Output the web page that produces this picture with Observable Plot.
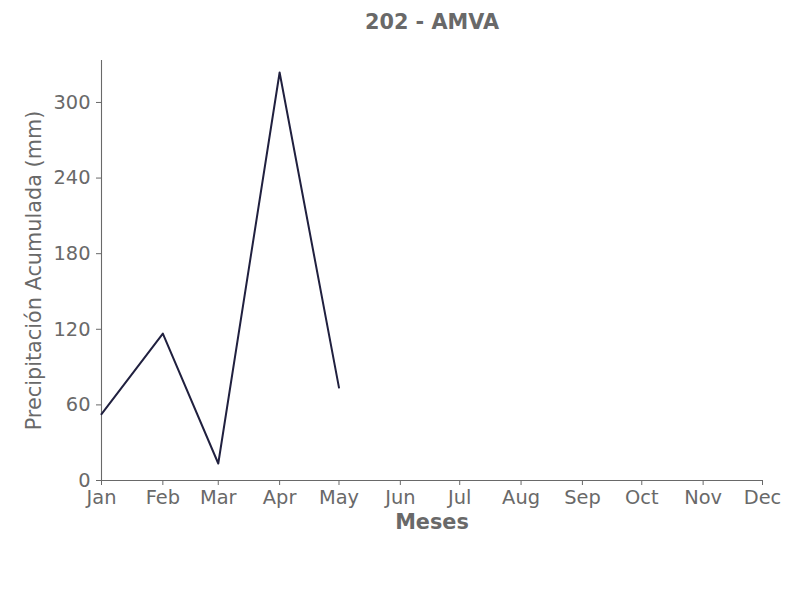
<!DOCTYPE html>
<html>
<head>
<meta charset="utf-8">
<script src="https://cdn.jsdelivr.net/npm/d3@7"></script>
<script src="https://cdn.jsdelivr.net/npm/@observablehq/plot@0.6"></script>
<style>
  html, body { margin: 0; padding: 0; background: #ffffff; }
  #chart svg { display: block; }
</style>
</head>
<body>
<div id="chart"></div>
<script>
const title = "202 - AMVA";
const xLabel = "Meses";
const yLabel = "Precipitación Acumulada (mm)";
const monthLabels = ["Jan","Feb","Mar","Apr","May","Jun","Jul","Aug","Sep","Oct","Nov","Dec"];
const monthDates = ["2023-01-01","2023-02-01","2023-03-01","2023-04-01","2023-05-01"];
const precipitation = [52.6, 116.6, 13.5, 323.8, 73.7];
const yTicks = [0, 60, 120, 180, 240, 300];
const xDomain = ["2023-01-01", "2023-12-01"];
const yDomain = [0, 333.3];

const data = monthDates.map((d, i) => ({date: new Date(d + "T00:00:00Z"), value: precipitation[i]}));
const xTicks = monthLabels.map((_, i) => new Date(Date.UTC(2023, i, 1)));

const textColor = "#696969";
const font = "DejaVu Sans";

const chart = Plot.plot({
  width: 806,
  height: 600,
  marginLeft: 101,
  marginRight: 44,
  marginTop: 60,
  marginBottom: 120,
  style: {fontFamily: font, fontSize: "19.4px", background: "#ffffff", color: textColor},
  x: {type: "utc", domain: xDomain.map(d => new Date(d + "T00:00:00Z"))},
  y: {domain: yDomain},
  marks: [
    Plot.ruleY([0], {stroke: textColor, strokeWidth: 1.1}),
    Plot.ruleX([new Date(xDomain[0] + "T00:00:00Z")], {stroke: textColor, strokeWidth: 1.1}),
    Plot.axisX({
      ticks: xTicks,
      tickFormat: d => monthLabels[d.getUTCMonth()],
      tickSize: 5,
      tickPadding: 5,
      fontSize: 19.4,
      stroke: textColor,
      fill: textColor,
      label: null
    }),
    Plot.axisY({
      ticks: yTicks,
      tickSize: 5,
      tickPadding: 6,
      fontSize: 19.4,
      stroke: textColor,
      fill: textColor,
      label: null
    }),
    Plot.line(data, {x: "date", y: "value", stroke: "#20203f", strokeWidth: 2}),
    Plot.text([title], {
      frameAnchor: "top", dy: -31.5, lineAnchor: "bottom", textAnchor: "middle", text: d => d,
      fontSize: 20.8, fontWeight: "bold", fill: textColor
    }),
    Plot.text([xLabel], {
      frameAnchor: "bottom", dy: 48.5, lineAnchor: "bottom", textAnchor: "middle", text: d => d,
      fontSize: 20.8, fontWeight: "bold", fill: textColor
    }),
    Plot.text([yLabel], {
      frameAnchor: "left", dx: -61, rotate: -90, lineAnchor: "bottom", textAnchor: "middle", text: d => d,
      fontSize: 20.8, fill: textColor
    })
  ]
});
document.getElementById("chart").appendChild(chart);
</script>
</body>
</html>
